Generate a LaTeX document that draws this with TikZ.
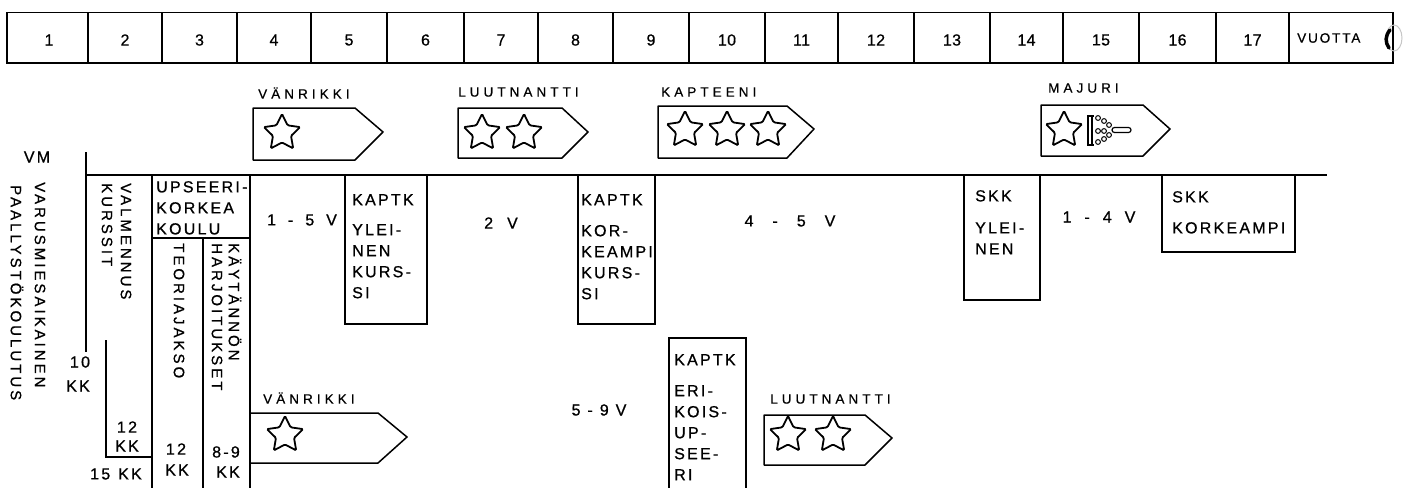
\documentclass[tikz,border=0pt]{standalone}
\usepackage{fontspec}
\usetikzlibrary{shapes.geometric}
\newfontfamily\hwA[LetterSpace=14,FakeBold=0.8]{Liberation Sans}
\newfontfamily\hwV[LetterSpace=20,FakeBold=0.8]{Liberation Sans}
\newfontfamily\hwL[LetterSpace=30,FakeBold=0.6]{Liberation Sans}
\newfontfamily\hwN[LetterSpace=2,FakeBold=0.6]{Liberation Sans}
\tikzset{
  ln/.style={line width=1.8pt},
  thinln/.style={line width=1.3pt},
  txt/.style={inner sep=0pt, font=\hwA\fontsize{16}{21}\selectfont},
  num/.style={inner sep=0pt, font=\hwN\fontsize{16}{18}\selectfont},
  lbl/.style={inner sep=0pt, font=\hwL\fontsize{13.5}{15}\selectfont, anchor=west},
  vtxt/.style={inner sep=0pt, font=\hwV\fontsize{15}{17}\selectfont, rotate=-90, anchor=west},
  boxtxt/.style={txt, anchor=north west, align=left},
  badge/.style={line width=1.5pt, line join=round},
  starn/.style={star, star points=5, star point ratio=2.0, minimum size=38pt, inner sep=0pt, draw, line width=1.8pt, rounded corners=1.2pt},
}
\begin{document}
\begin{tikzpicture}[x=1pt,y=-1pt]
\useasboundingbox (0,0) rectangle (1412,487);
% top scale bar
\draw[ln] (7,12.5) rectangle (1393,63);
\foreach \x in {88,162,237,311,387,464,538,613,689,765,838,914,990,1063,1139,1216,1289}
  \draw[thinln] (\x,12.5) -- (\x,63);
\foreach \c/\i in {49/1,125/2,199.5/3,274/4,349/5,425.5/6,501/7,575.5/8,651/9,727/10,801.5/11,876/12,952/13,1026.5/14,1101/15,1177.5/16,1252.5/17}
  \node[num] (yr\i) at (\c,40) {\i};
\node[txt, font=\hwA\fontsize{13.5}{15}\selectfont, anchor=west] (vuotta) at (1297,38) {VUOTTA};
\draw[gray!45, line width=1pt] (1394,38) ellipse (8 and 13);
\draw[line width=3.5pt, line cap=round] (1390,30) .. controls (1385,36) and (1385,42) .. (1389,48);

% rank badges (top)
\node[lbl] (lv1) at (258,93) {VÄNRIKKI};
\draw[badge] (253,108) -- (355,108) -- (383,132) -- (355,160) -- (253,160) -- cycle;
\node[starn] (sv1) at (282,133) {};

\node[lbl] (ll1) at (458,92) {LUUTNANTTI};
\draw[badge] (458,108) -- (562,108) -- (588,132) -- (562,158) -- (458,158) -- cycle;
\node[starn] (sl1a) at (482,133) {};
\node[starn] (sl1b) at (524,133) {};

\node[lbl] (lk) at (661,92) {KAPTEENI};
\draw[badge] (658,106) -- (787,106) -- (814,129) -- (787,158) -- (658,158) -- cycle;
\node[starn] (ska) at (685,130) {};
\node[starn] (skb) at (727,130) {};
\node[starn] (skc) at (768,130) {};

\node[lbl] (lm) at (1048,88) {MAJURI};
\draw[badge] (1041,105) -- (1143,105) -- (1170,129) -- (1143,156) -- (1041,156) -- cycle;
\node[starn] (sm) at (1064,130) {};
% major's emblem
\draw[line width=1.4pt] (1094,116) -- (1088,116) -- (1088,145) -- (1094,145);
\draw[line width=1.2pt] (1092,117) -- (1092,144);
\foreach \p in {(1098,118),(1104,121),(1109,125),(1098,131),(1104,131),(1098,142),(1104,139),(1109,135)}
  \draw[line width=1pt] \p circle (2.4);
\draw[line width=1.2pt, rounded corners=2.5pt] (1112,127.5) rectangle (1131,132.5);

% main structure
\node[txt] (vm) at (37,157) {VM};
\draw[ln] (86,152) -- (86,352);
\draw[ln] (86,175) -- (1327,175);
\node[vtxt] (vars1) at (40,182) {VARUSMIESAIKAINEN};
\node[vtxt] (vars2) at (17,185) {PAALLYSTÖKOULUTUS};
\node[vtxt] (valm1) at (126,183) {VALMENNUS};
\node[vtxt] (valm2) at (107,183) {KURSSIT};
\node[txt] (k10a) at (80,362) {10};
\node[txt] (k10b) at (78,386) {KK};
\draw[thinln] (106,340) -- (106,457) -- (152,457);
\node[txt] (k12a) at (127,427) {12};
\node[txt] (k12b) at (127,446) {KK};
\node[txt] (k15) at (116,474) {15\hspace{8pt}KK};

\draw[ln] (152,175) -- (152,490);
\draw[ln] (250,175) -- (250,490);
\draw[thinln] (152,238) -- (250,238);
\draw[thinln] (203,238) -- (203,490);
\node[boxtxt] (uk) at (156,181) {UPSEERI-\\KORKEA\\KOULU};
\node[vtxt] (teo) at (179,243) {TEORIAJAKSO};
\node[vtxt] (har) at (217,243) {HARJOITUKSET};
\node[vtxt] (kay) at (235,243) {KÄYTÄNNÖN};
\node[txt] (t12a) at (176,449) {12};
\node[txt] (t12b) at (177,470) {KK};
\node[txt] (h89a) at (226,452) {8-9};
\node[txt] (h89b) at (228,472) {KK};

% bottom vanrikki
\node[lbl] (lv2) at (263,398) {VÄNRIKKI};
\draw[badge] (250,413) -- (378,413) -- (407,437) -- (378,463) -- (250,463);
\node[starn] (sv2) at (285,435) {};

% durations
\node[txt] (d15) at (302,220) {1\hspace{12pt}-\hspace{12pt}5\hspace{12pt}V};
\node[txt] (d2) at (501,223) {2\hspace{14pt}V};
\node[txt] (d45) at (790,221) {4\hspace{19pt}-\hspace{19pt}5\hspace{19pt}V};
\node[txt] (d14) at (1099,217) {1\hspace{13pt}-\hspace{13pt}4\hspace{13pt}V};
\node[txt] (d59) at (599,410) {5\hspace{7pt}-\hspace{7pt}9\hspace{7pt}V};

% course boxes
\draw[thinln] (345,175) rectangle (427,324);
\node[boxtxt] (ky) at (352,194) {KAPTK\\[9pt]YLEI-\\NEN\\KURS-\\SI};
\draw[thinln] (578,175) rectangle (655,324);
\node[boxtxt] (kk) at (581,194) {KAPTK\\[10pt]KOR-\\KEAMPI\\KURS-\\SI};
\draw[thinln] (964,175) rectangle (1040,300);
\node[boxtxt] (sy) at (975,190) {SKK\\[11pt]YLEI-\\NEN};
\draw[thinln] (1162,175) rectangle (1295,252);
\node[boxtxt] (sk) at (1172,191) {SKK\\[10pt]KORKEAMPI};
\draw[thinln] (669,490) -- (669,338) -- (746,338) -- (746,490);
\node[boxtxt] (ke) at (674,354) {KAPTK\\[10pt]ERI-\\KOIS-\\UP-\\SEE-\\RI};

% bottom luutnantti
\node[lbl] (ll2) at (770,399) {LUUTNANTTI};
\draw[badge] (764,415) -- (865,415) -- (892,438) -- (865,465) -- (764,465) -- cycle;
\node[starn] (sl2a) at (788,435) {};
\node[starn] (sl2b) at (833,435) {};
\end{tikzpicture}
\end{document}
